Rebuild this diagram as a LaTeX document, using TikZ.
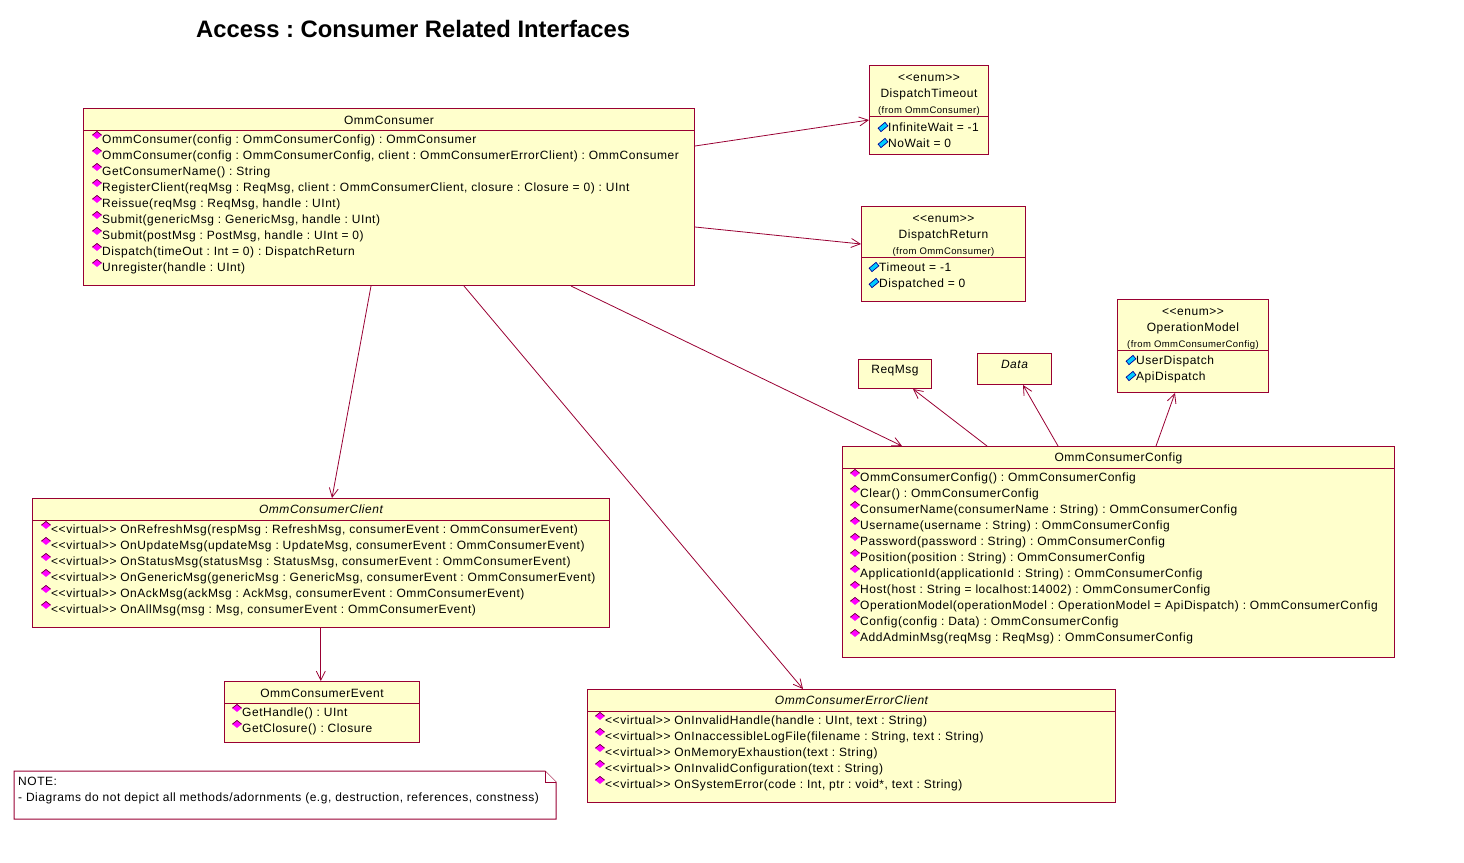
\documentclass[tikz,border=0pt]{standalone}
\usepackage{fontspec}
\setmainfont{Liberation Sans}
\newfontfamily\umlfont{Liberation Sans}[LetterSpace=4.4]
\usetikzlibrary{arrows.meta,shapes.geometric}
\definecolor{umlline}{HTML}{990033}
\definecolor{umlfill}{HTML}{FFFFCC}
\definecolor{opcolor}{HTML}{FF00FF}
\definecolor{attrcolor}{HTML}{00CCFF}
\frenchspacing
\newcommand{\virt}{<{}<virtual>{}> }
\newcommand{\stereo}{\rule{0pt}{14pt}<{}<enum>{}>}
\newcommand{\fromtext}{\fontsize{9.5}{12}\selectfont}
\newcommand{\lowered}{\rule{0pt}{11pt}}
\newcommand{\raised}{\rule[-10pt]{0pt}{1pt}}
\newcommand{\memberlist}[5]{%
  \foreach \txt [count=\n from 0] in {#5} {
    \node[#2] (#1icon\n) at (#3-5, #4-4+16*\n) {};
    \node[member] (#1line\n) at (#3, #4+16*\n) {\txt};
  }}
\begin{document}
\begin{tikzpicture}[
      x=1pt, y=-1pt,
      umlbase/.style={font=\umlfont\fontsize{12}{16}\selectfont},
      head/.style={umlbase, draw=umlline, fill=umlfill, anchor=north west, align=center,
                   inner sep=0pt, line width=1pt},
      body/.style={draw=umlline, fill=umlfill, anchor=north west, inner sep=0pt, line width=1pt},
      member/.style={umlbase, anchor=base west, inner sep=0pt},
      opicon/.style={diamond, yshift=4pt, fill=opcolor, inner sep=0pt, minimum width=10pt, minimum height=8pt,
                     path picture={\draw[umlline!60!black, line width=1.2pt]
                       (path picture bounding box.west) -- (path picture bounding box.north)
                       -- (path picture bounding box.east);}},
      attricon/.style={rectangle, rotate=40, fill=attrcolor, draw=blue!60!black, line width=0.7pt,
                       inner sep=0pt, minimum width=9pt, minimum height=4.5pt},
      assoc/.style={->, >={Straight Barb[length=9pt,width=9pt]}, draw=umlline, line width=0.8pt},
      notebox/.style={draw=umlline, line width=1pt, fill=white}
    ]
    \useasboundingbox (0,0) rectangle (1464,862);

    \node[font=\fontsize{23.8}{28}\selectfont\bfseries, anchor=base west, inner sep=0pt] (title) at (196,37)
      {Access : Consumer Related Interfaces};

    \node[body, minimum width=611pt, minimum height=155pt] (consumerBody) at (83,130) {};
    \node[head, minimum width=611pt, minimum height=22pt] (consumer) at (83,108) {\lowered OmmConsumer};
    \memberlist{consumer}{opicon}{102}{143}{
      {OmmConsumer(config : OmmConsumerConfig) : OmmConsumer},
      {OmmConsumer(config : OmmConsumerConfig, client : OmmConsumerErrorClient) : OmmConsumer},
      {GetConsumerName() : String},
      {RegisterClient(reqMsg : ReqMsg, client : OmmConsumerClient, closure : Closure = 0) : UInt},
      {Reissue(reqMsg : ReqMsg, handle : UInt)},
      {Submit(genericMsg : GenericMsg, handle : UInt)},
      {Submit(postMsg : PostMsg, handle : UInt = 0)},
      {Dispatch(timeOut : Int = 0) : DispatchReturn},
      {Unregister(handle : UInt)}}

    \node[body, minimum width=119pt, minimum height=38pt] (timeoutBody) at (869,116) {};
    \node[head, minimum width=119pt, minimum height=51pt] (timeout) at (869,65)
      {\stereo\\DispatchTimeout\\{\fromtext (from OmmConsumer)}};
    \memberlist{timeout}{attricon}{888}{131}{{InfiniteWait = -1},{NoWait = 0}}

    \node[body, minimum width=164pt, minimum height=44pt] (returnBody) at (861,257) {};
    \node[head, minimum width=164pt, minimum height=51pt] (return) at (861,206)
      {\stereo\\DispatchReturn\\{\fromtext (from OmmConsumer)}};
    \memberlist{return}{attricon}{879}{271}{{Timeout = -1},{Dispatched = 0}}

    \node[body, minimum width=151pt, minimum height=42pt] (opmodelBody) at (1117,350) {};
    \node[head, minimum width=151pt, minimum height=51pt] (opmodel) at (1117,299)
      {\stereo\\OperationModel\\{\fromtext (from OmmConsumerConfig)}};
    \memberlist{opmodel}{attricon}{1136}{364}{{UserDispatch},{ApiDispatch}}

    \node[head, minimum width=73pt, minimum height=29pt] (reqmsg) at (858,359) {\raised ReqMsg};
    \node[head, minimum width=74pt, minimum height=31pt] (data) at (977,353) {\raised\itshape Data};

    \node[body, minimum width=552pt, minimum height=189pt] (configBody) at (842,468) {};
    \node[head, minimum width=552pt, minimum height=22pt] (config) at (842,446) {\lowered OmmConsumerConfig};
    \memberlist{config}{opicon}{860}{481}{
      {OmmConsumerConfig() : OmmConsumerConfig},
      {Clear() : OmmConsumerConfig},
      {ConsumerName(consumerName : String) : OmmConsumerConfig},
      {Username(username : String) : OmmConsumerConfig},
      {Password(password : String) : OmmConsumerConfig},
      {Position(position : String) : OmmConsumerConfig},
      {ApplicationId(applicationId : String) : OmmConsumerConfig},
      {Host(host : String = localhost:14002) : OmmConsumerConfig},
      {OperationModel(operationModel : OperationModel = ApiDispatch) : OmmConsumerConfig},
      {Config(config : Data) : OmmConsumerConfig},
      {AddAdminMsg(reqMsg : ReqMsg) : OmmConsumerConfig}}

    \node[body, minimum width=577pt, minimum height=107pt] (clientBody) at (32,520) {};
    \node[head, minimum width=577pt, minimum height=22pt] (client) at (32,498) {\itshape OmmConsumerClient};
    \memberlist{client}{opicon}{51}{533}{
      {\virt OnRefreshMsg(respMsg : RefreshMsg, consumerEvent : OmmConsumerEvent)},
      {\virt OnUpdateMsg(updateMsg : UpdateMsg, consumerEvent : OmmConsumerEvent)},
      {\virt OnStatusMsg(statusMsg : StatusMsg, consumerEvent : OmmConsumerEvent)},
      {\virt OnGenericMsg(genericMsg : GenericMsg, consumerEvent : OmmConsumerEvent)},
      {\virt OnAckMsg(ackMsg : AckMsg, consumerEvent : OmmConsumerEvent)},
      {\virt OnAllMsg(msg : Msg, consumerEvent : OmmConsumerEvent)}}

    \node[body, minimum width=195pt, minimum height=39pt] (eventBody) at (224,703) {};
    \node[head, minimum width=195pt, minimum height=22pt] (event) at (224,681) {\lowered OmmConsumerEvent};
    \memberlist{event}{opicon}{242}{716}{{GetHandle() : UInt},{GetClosure() : Closure}}

    \node[body, minimum width=528pt, minimum height=91pt] (errorBody) at (587,711) {};
    \node[head, minimum width=528pt, minimum height=22pt] (error) at (587,689) {\itshape OmmConsumerErrorClient};
    \memberlist{error}{opicon}{605}{724}{
      {\virt OnInvalidHandle(handle : UInt, text : String)},
      {\virt OnInaccessibleLogFile(filename : String, text : String)},
      {\virt OnMemoryExhaustion(text : String)},
      {\virt OnInvalidConfiguration(text : String)},
      {\virt OnSystemError(code : Int, ptr : void*, text : String)}}

    \draw[notebox] (14,771) -- (545,771) -- (556,782) -- (556,819) -- (14,819) -- cycle;
    \draw[notebox] (545,771) -- (545,782) -- (556,782);
    \node[member] (noteHead) at (18,785) {NOTE:};
    \node[member] (noteLine) at (18,801) {- Diagrams do not depict all methods/adornments (e.g, destruction, references, constness)};

    \draw[assoc] ([yshift=-16pt]consumerBody.north east) -- ([yshift=-4pt]timeoutBody.north west);
    \draw[assoc] ([yshift=-97pt]consumerBody.north east) -- ([yshift=-38pt]return.north west);
    \draw[assoc] ([xshift=288pt]consumerBody.south west) -- ([xshift=300pt]client.north west);
    \draw[assoc] ([xshift=381pt]consumerBody.south west) -- ([xshift=216pt]error.north west);
    \draw[assoc] ([xshift=488pt]consumerBody.south west) -- ([xshift=60pt]config.north west);
    \draw[assoc] ([xshift=145pt]config.north west) -- ([xshift=55pt]reqmsg.south west);
    \draw[assoc] ([xshift=216pt]config.north west) -- ([xshift=46pt]data.south west);
    \draw[assoc] ([xshift=314pt]config.north west) -- ([xshift=58pt]opmodelBody.south west);
    \draw[assoc] ([xshift=288.8pt]clientBody.south west) -- ([xshift=96.8pt]event.north west);
  \end{tikzpicture}
\end{document}
